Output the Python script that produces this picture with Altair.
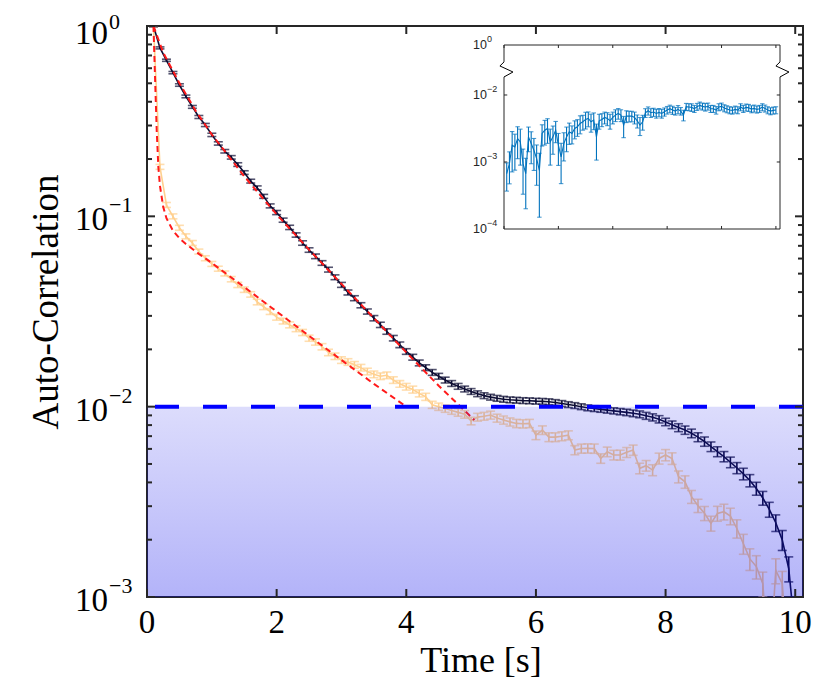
import altair as alt
import numpy as np
import pandas as pd

# ------------------------------------------------------------------ data
time_s = [round(0.1 * i, 1) for i in range(1, 101)]

black_log10 = [
    0.0, -0.115, -0.18, -0.245, -0.31, -0.37, -0.425, -0.478, -0.52, -0.572,
    -0.617, -0.658, -0.69, -0.728, -0.77, -0.815, -0.85, -0.895, -0.945, -0.98,
    -1.02, -1.058, -1.098, -1.14, -1.177, -1.21, -1.245, -1.28, -1.32, -1.36,
    -1.40, -1.43, -1.467, -1.50, -1.535, -1.57, -1.605, -1.64, -1.675, -1.71,
    -1.74, -1.77, -1.795, -1.82, -1.84, -1.86, -1.878, -1.893, -1.907, -1.92,
    -1.932, -1.942, -1.95, -1.956, -1.961, -1.964, -1.966, -1.968, -1.969, -1.971,
    -1.972, -1.974, -1.978, -1.983, -1.989, -1.994, -2.0, -2.006, -2.01, -2.014,
    -2.018, -2.022, -2.026, -2.03, -2.035, -2.04, -2.048, -2.056, -2.066, -2.08,
    -2.095, -2.11, -2.123, -2.14, -2.16, -2.183, -2.21, -2.236, -2.262, -2.292,
    -2.322, -2.353, -2.388, -2.43, -2.48, -2.54, -2.61, -2.7, -2.85, -3.2,
]
black_relerr = [
    0.01, 0.012, 0.013, 0.014, 0.015, 0.016, 0.017, 0.018, 0.019, 0.02,
    0.02, 0.021, 0.021, 0.022, 0.022, 0.023, 0.023, 0.024, 0.024, 0.025,
    0.025, 0.026, 0.026, 0.027, 0.027, 0.028, 0.028, 0.029, 0.029, 0.03,
    0.03, 0.03, 0.031, 0.031, 0.032, 0.032, 0.033, 0.033, 0.034, 0.034,
    0.035, 0.035, 0.035, 0.035, 0.035, 0.035, 0.035, 0.035, 0.035, 0.035,
    0.035, 0.035, 0.035, 0.035, 0.035, 0.035, 0.035, 0.035, 0.035, 0.035,
    0.035, 0.035, 0.035, 0.035, 0.035, 0.035, 0.035, 0.035, 0.035, 0.035,
    0.036, 0.037, 0.038, 0.039, 0.04, 0.041, 0.042, 0.043, 0.044, 0.045,
    0.046, 0.048, 0.05, 0.052, 0.054, 0.056, 0.058, 0.06, 0.062, 0.064,
    0.067, 0.07, 0.074, 0.078, 0.083, 0.09, 0.1, 0.12, 0.15, 0.2,
]
orange_log10 = [
    0.0, -0.74, -0.94, -1.0, -1.06, -1.105, -1.14, -1.185, -1.22, -1.25,
    -1.275, -1.30, -1.33, -1.36, -1.385, -1.41, -1.45, -1.475, -1.50, -1.53,
    -1.55, -1.57, -1.59, -1.61, -1.64, -1.66, -1.685, -1.715, -1.735, -1.755,
    -1.765, -1.78, -1.795, -1.815, -1.83, -1.84, -1.835, -1.86, -1.88, -1.895,
    -1.91, -1.93, -1.948, -1.99, -2.0, -2.01, -2.02, -2.03, -2.04, -2.075,
    -2.055, -2.05, -2.044, -2.06, -2.07, -2.08, -2.088, -2.09, -2.088, -2.15,
    -2.123, -2.16, -2.16, -2.155, -2.15, -2.228, -2.22, -2.219, -2.22, -2.272,
    -2.237, -2.254, -2.254, -2.24, -2.228, -2.324, -2.31, -2.333, -2.272, -2.254,
    -2.272, -2.368, -2.395, -2.473, -2.52, -2.56, -2.613, -2.561, -2.552, -2.575,
    -2.64, -2.72, -2.8, -2.84, -2.93, -3.4, -2.86, -2.93, -3.4, -3.6,
]
orange_relerr = [
    0.01, 0.03, 0.03, 0.03, 0.03, 0.03, 0.03, 0.03, 0.03, 0.03,
    0.03, 0.03, 0.032, 0.032, 0.033, 0.033, 0.034, 0.034, 0.035, 0.035,
    0.035, 0.036, 0.036, 0.037, 0.037, 0.038, 0.038, 0.039, 0.039, 0.04,
    0.04, 0.04, 0.04, 0.04, 0.04, 0.04, 0.04, 0.04, 0.04, 0.04,
    0.042, 0.042, 0.043, 0.043, 0.044, 0.044, 0.045, 0.045, 0.046, 0.046,
    0.047, 0.047, 0.048, 0.048, 0.049, 0.049, 0.05, 0.05, 0.05, 0.052,
    0.052, 0.053, 0.053, 0.054, 0.054, 0.055, 0.055, 0.056, 0.056, 0.057,
    0.058, 0.058, 0.06, 0.06, 0.062, 0.064, 0.064, 0.066, 0.066, 0.068,
    0.07, 0.072, 0.075, 0.078, 0.08, 0.085, 0.09, 0.09, 0.095, 0.1,
    0.11, 0.12, 0.13, 0.14, 0.15, 0.2, 0.15, 0.16, 0.2, 0.2,
]

black_fit_t = [0.1, 0.25, 0.5, 0.75, 1.0, 1.5, 2.0, 2.5, 3.0, 3.5, 4.0, 4.5, 5.05]
black_fit_log10 = [0.0, -0.14, -0.30, -0.445, -0.57, -0.79, -0.99, -1.175,
                   -1.355, -1.535, -1.715, -1.89, -2.07]
orange_fit_t = [0.1, 0.125, 0.15, 0.175, 0.2, 0.25, 0.3, 0.4, 0.5, 0.6, 0.8,
                1.0, 1.5, 2.0, 2.5, 3.0, 3.5, 4.0]
orange_fit_log10 = [0.0, -0.28, -0.55, -0.74, -0.84, -0.95, -1.01, -1.075,
                    -1.115, -1.145, -1.197, -1.245, -1.372, -1.50, -1.628,
                    -1.755, -1.88, -2.0]

threshold = 0.01

inset_index = list(range(1, 101))
inset_log10 = [
    -3.175, -3.025, -2.75, -2.775, -2.65, -2.70, -3.025, -3.175, -2.625, -2.725,
    -2.825, -2.95, -3.125, -2.575, -2.525, -2.50, -2.70, -2.625, -2.525, -2.75,
    -2.925, -2.725, -2.625, -2.55, -2.575, -2.50, -2.475, -2.425, -2.40, -2.365,
    -2.35, -2.40, -2.375, -2.625, -2.385, -2.365, -2.335, -2.35, -2.385, -2.335,
    -2.30, -2.275, -2.30, -2.45, -2.315, -2.315, -2.315, -2.335, -2.385, -2.45,
    -2.40, -2.265, -2.235, -2.265, -2.255, -2.275, -2.26, -2.275, -2.25, -2.225,
    -2.205, -2.225, -2.24, -2.215, -2.24, -2.30, -2.175, -2.18, -2.185, -2.205,
    -2.175, -2.155, -2.17, -2.18, -2.17, -2.205, -2.205, -2.225, -2.18, -2.17,
    -2.195, -2.21, -2.225, -2.23, -2.215, -2.225, -2.18, -2.205, -2.185, -2.19,
    -2.21, -2.20, -2.215, -2.205, -2.18, -2.20, -2.225, -2.24, -2.23, -2.225,
]
inset_relerr = [
    0.45, 0.5, 0.6, 0.55, 0.5, 0.55, 0.65, 0.7, 0.4, 0.5,
    0.5, 0.6, 0.8, 0.35, 0.4, 0.4, 0.55, 0.45, 0.35, 0.5,
    0.6, 0.45, 0.4, 0.35, 0.3, 0.3, 0.28, 0.3, 0.25, 0.28,
    0.25, 0.3, 0.28, 0.55, 0.25, 0.22, 0.2, 0.22, 0.25, 0.2,
    0.2, 0.18, 0.2, 0.35, 0.2, 0.18, 0.18, 0.2, 0.22, 0.3,
    0.25, 0.15, 0.14, 0.15, 0.14, 0.15, 0.14, 0.15, 0.14, 0.13,
    0.13, 0.14, 0.13, 0.14, 0.13, 0.18, 0.12, 0.12, 0.13, 0.12,
    0.12, 0.12, 0.12, 0.13, 0.12, 0.12, 0.12, 0.13, 0.12, 0.12,
    0.12, 0.12, 0.12, 0.12, 0.12, 0.12, 0.12, 0.12, 0.12, 0.12,
    0.12, 0.12, 0.12, 0.12, 0.12, 0.12, 0.12, 0.12, 0.12, 0.12,
]

y_major = [1e-3, 1e-2, 1e-1, 1.0]
y_exponents = ["\u22123", "\u22122", "\u22121", "0"]
y_minor = [m * 10.0 ** k for k in (-3, -2, -1) for m in range(2, 10)]
x_major = [0, 2, 4, 6, 8, 10]

inset_x_ticks = [0, 20, 40, 60, 80, 100]
inset_top_log10 = -1.254
inset_y_ticks = [1e-3, 1e-2]
inset_label_pos = [10 ** inset_top_log10, 1e-2, 1e-3, 1e-4]
inset_label_exp = ["0", "\u22122", "\u22123", "\u22124"]
inset_break_log10 = [-1.507, -1.567, -1.657, -1.731]

# ------------------------------------------------------------------ style
W, H = 656, 571
X_MAX = 10.12
SERIF = "Liberation Serif"
SANS = "Liberation Sans"
AX = "#262626"
BLACK_C = "#0D0D33"
ORANGE_C = "#FFD08F"
RED_C = "#FF1A1A"
INSET_C = "#0072BD"

xs = alt.Scale(domain=[0, X_MAX], nice=False, zero=False)
ys = alt.Scale(type="log", domain=[1e-3, 1.0], nice=False)


def X(f):
    return alt.X(f, scale=xs, axis=None)


def Y(f):
    return alt.Y(f, scale=ys, axis=None)


def series_df(tt, logs, rel):
    v = 10 ** np.array(logs, dtype=float)
    r = np.array(rel, dtype=float)
    return pd.DataFrame({"t": tt, "v": v, "lo": v * (1 - r), "hi": v * (1 + r)})


def err_layers(df, color, width, cap, xf, yf):
    base = alt.Chart(df)
    return [
        base.mark_rule(color=color, strokeWidth=width, clip=True).encode(
            x=xf("t:Q"), y=yf("lo:Q"), y2="hi:Q"),
        base.mark_tick(color=color, orient="horizontal", size=cap,
                       thickness=width, clip=True).encode(x=xf("t:Q"), y=yf("lo:Q")),
        base.mark_tick(color=color, orient="horizontal", size=cap,
                       thickness=width, clip=True).encode(x=xf("t:Q"), y=yf("hi:Q")),
        base.mark_line(color=color, strokeWidth=width, clip=True).encode(
            x=xf("t:Q"), y=yf("v:Q")),
    ]


df_black = series_df(time_s, black_log10, black_relerr)
df_orange = series_df(time_s, orange_log10, orange_relerr)
df_bfit = pd.DataFrame({"t": black_fit_t, "v": 10 ** np.array(black_fit_log10)})
df_ofit = pd.DataFrame({"t": orange_fit_t, "v": 10 ** np.array(orange_fit_log10)})

main_layers = []
main_layers += err_layers(df_orange, ORANGE_C, 1.6, 9, X, Y)
main_layers += err_layers(df_black, BLACK_C, 1.6, 9, X, Y)
for d in (df_ofit, df_bfit):
    main_layers.append(
        alt.Chart(d).mark_line(color=RED_C, strokeWidth=2, strokeDash=[6, 4],
                               clip=True).encode(x=X("t:Q"), y=Y("v:Q")))

# shaded region below threshold
shade_df = pd.DataFrame({"x0": [0.0], "x1": [X_MAX], "y0": [1e-3], "y1": [threshold]})
main_layers.append(
    alt.Chart(shade_df).mark_rect(
        fill=alt.Gradient(
            gradient="linear",
            stops=[alt.GradientStop(color="rgba(10,10,235,0.14)", offset=0),
                   alt.GradientStop(color="rgba(10,10,235,0.31)", offset=1)],
            x1=0, x2=0, y1=0, y2=1),
    ).encode(x=X("x0:Q"), x2="x1:Q", y=Y("y1:Q"), y2="y0:Q"))

main_layers.append(
    alt.Chart(pd.DataFrame({"v": [threshold]})).mark_rule(
        color="#0000FF", strokeWidth=4, strokeDash=[24, 24]).encode(y=Y("v:Q")))

# inward ticks on all four sides
ymaj_df = pd.DataFrame({"v": y_major, "e": y_exponents})
ymin_df = pd.DataFrame({"v": y_minor})
xmaj_df = pd.DataFrame({"t": x_major, "lab": [str(v) for v in x_major]})
for d, ln in ((ymaj_df, 8), (ymin_df, 5)):
    main_layers.append(alt.Chart(d).mark_rule(color=AX, strokeWidth=2).encode(
        y=Y("v:Q"), x=alt.value(0), x2=alt.value(ln)))
    main_layers.append(alt.Chart(d).mark_rule(color=AX, strokeWidth=2).encode(
        y=Y("v:Q"), x=alt.value(W), x2=alt.value(W - ln)))
main_layers.append(alt.Chart(xmaj_df).mark_rule(color=AX, strokeWidth=2).encode(
    x=X("t:Q"), y=alt.value(H), y2=alt.value(H - 8)))
main_layers.append(alt.Chart(xmaj_df).mark_rule(color=AX, strokeWidth=2).encode(
    x=X("t:Q"), y=alt.value(0), y2=alt.value(8)))

# y tick labels: lower three, and the top one (nudged down to stay inside)
ylow_df = ymaj_df.iloc[:3]
ytop_df = ymaj_df.iloc[3:]
for d, dy_base, dy_exp in ((ylow_df, 4, -11), (ytop_df, 8, -4)):
    main_layers.append(alt.Chart(d).mark_text(
        text="10", font=SERIF, fontSize=33, align="left", baseline="middle",
        dy=dy_base, color="black").encode(x=alt.value(-72), y=Y("v:Q")))
    main_layers.append(alt.Chart(d).mark_text(
        font=SERIF, fontSize=22, align="left", baseline="middle", dy=dy_exp,
        color="black").encode(x=alt.value(-38), y=Y("v:Q"), text="e:N"))

main_layers.append(alt.Chart(xmaj_df).mark_text(
    font=SERIF, fontSize=33, align="center", baseline="middle",
    color="black").encode(x=X("t:Q"), y=alt.value(H + 26), text="lab:N"))
main_layers.append(alt.Chart(pd.DataFrame({"s": ["Time [s]"]})).mark_text(
    font=SERIF, fontSize=36, align="center", baseline="middle",
    color="black").encode(x=alt.value(334), y=alt.value(H + 64), text="s:N"))
main_layers.append(alt.Chart(pd.DataFrame({"s": ["Auto-Correlation"]})).mark_text(
    font=SERIF, fontSize=37, align="center", baseline="middle", angle=270,
    color="black").encode(x=alt.value(-100), y=alt.value(276), text="s:N"))

main = alt.layer(*main_layers)

# ------------------------------------------------------------------ inset
INSET_TOP = 10 ** inset_top_log10
ixs = alt.Scale(domain=[0, 101.5], range=[357, 633], nice=False, zero=False)
iys = alt.Scale(type="log", domain=[1e-4, INSET_TOP], range=[203, 19], nice=False)


def IX(f):
    return alt.X(f, scale=ixs, axis=None)


def IY(f):
    return alt.Y(f, scale=iys, axis=None)


inset_layers = []
box_df = pd.DataFrame({"x0": [0.0], "x1": [101.5], "y0": [1e-4], "y1": [INSET_TOP]})
inset_layers.append(alt.Chart(box_df).mark_rect(fill="white").encode(
    x=IX("x0:Q"), x2="x1:Q", y=IY("y1:Q"), y2="y0:Q"))

df_inset = series_df(inset_index, inset_log10, inset_relerr)
inset_layers += err_layers(df_inset, INSET_C, 1.1, 4.5, IX, IY)

# frame: top & bottom full, sides broken
hb_df = pd.DataFrame({"x0": [0.0, 0.0], "x1": [101.5, 101.5], "y": [1e-4, INSET_TOP]})
inset_layers.append(alt.Chart(hb_df).mark_rule(color=AX, strokeWidth=1).encode(
    x=IX("x0:Q"), x2="x1:Q", y=IY("y:Q")))
brk = 10 ** np.array(inset_break_log10)
vs_df = pd.DataFrame({"x": [0.0, 0.0, 101.5, 101.5],
                      "y0": [1e-4, brk[0], 1e-4, brk[0]],
                      "y1": [brk[3], INSET_TOP, brk[3], INSET_TOP]})
inset_layers.append(alt.Chart(vs_df).mark_rule(color=AX, strokeWidth=1).encode(
    x=IX("x:Q"), y=IY("y0:Q"), y2="y1:Q"))
zig_df = pd.DataFrame({
    "side": ["L"] * 4 + ["R"] * 4,
    "i": [0, 1, 2, 3] * 2,
    "x": [0.0, -1.5, 3.3, 0.0, 101.5, 100.0, 104.8, 101.5],
    "y": list(brk) * 2,
})
inset_layers.append(alt.Chart(zig_df).mark_line(color="black", strokeWidth=1).encode(
    x=IX("x:Q"), y=IY("y:Q"), detail="side:N", order="i:Q"))

ixt_df = pd.DataFrame({"x": inset_x_ticks})
ixt_df["yb0"] = 1e-4
ixt_df["yb1"] = 10 ** (-4 + 0.045)
ixt_df["yt0"] = INSET_TOP
ixt_df["yt1"] = 10 ** (inset_top_log10 - 0.045)
inset_layers.append(alt.Chart(ixt_df).mark_rule(color=AX, strokeWidth=1).encode(
    x=IX("x:Q"), y=IY("yb0:Q"), y2="yb1:Q"))
inset_layers.append(alt.Chart(ixt_df).mark_rule(color=AX, strokeWidth=1).encode(
    x=IX("x:Q"), y=IY("yt0:Q"), y2="yt1:Q"))
iyt_df = pd.DataFrame({"y": inset_y_ticks, "xl0": 0.0, "xl1": 1.2,
                       "xr0": 101.5, "xr1": 100.3})
inset_layers.append(alt.Chart(iyt_df).mark_rule(color=AX, strokeWidth=1).encode(
    y=IY("y:Q"), x=IX("xl0:Q"), x2="xl1:Q"))
inset_layers.append(alt.Chart(iyt_df).mark_rule(color=AX, strokeWidth=1).encode(
    y=IY("y:Q"), x=IX("xr0:Q"), x2="xr1:Q"))

ilab_df = pd.DataFrame({"x": [0.0] * 4, "y": inset_label_pos, "e": inset_label_exp})
inset_layers.append(alt.Chart(ilab_df).mark_text(
    text="10", font=SANS, fontSize=12.5, align="left", baseline="middle",
    dx=-31, color=AX).encode(x=IX("x:Q"), y=IY("y:Q")))
inset_layers.append(alt.Chart(ilab_df).mark_text(
    font=SANS, fontSize=9, align="left", baseline="middle", dx=-17, dy=-6,
    color=AX).encode(x=IX("x:Q"), y=IY("y:Q"), text="e:N"))

inset = alt.layer(*inset_layers)

chart = (
    alt.layer(main, inset)
    .resolve_scale(x="independent", y="independent")
    .properties(
        width=W, height=H,
        autosize=alt.AutoSizeParams(type="none"),
        padding={"left": 139, "top": 18, "right": 20, "bottom": 87},
    )
    .configure_view(stroke=AX, strokeWidth=2)
)

chart.save("out.html", embed_options={"renderer": "svg", "actions": False})
